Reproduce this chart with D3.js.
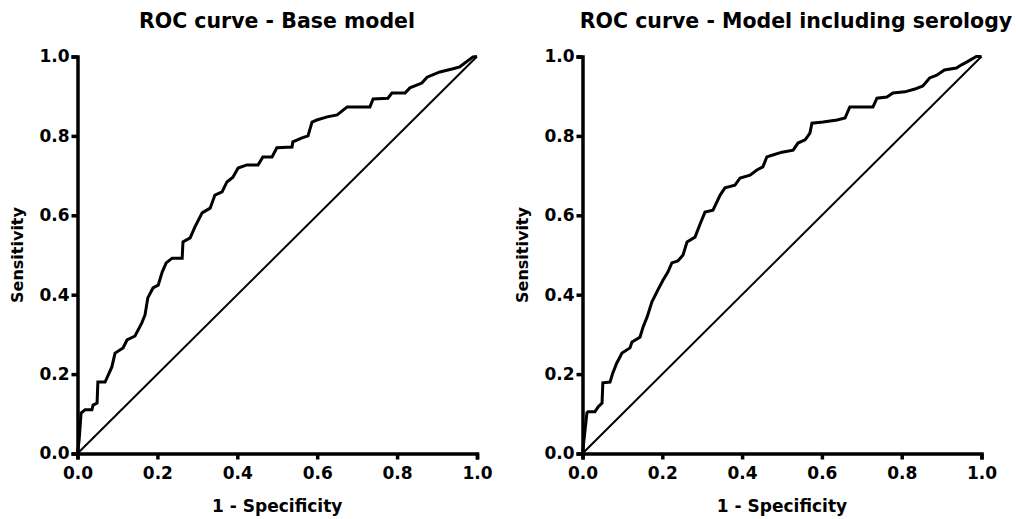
<!DOCTYPE html>
<html lang="en">
<head>
<meta charset="utf-8">
<title>ROC curves</title>
<script src="https://d3js.org/d3.v7.min.js"></script>
<style>
  body { margin: 0; background: #fff; }
  text { font-family: "DejaVu Sans", sans-serif; font-weight: bold; fill: #000; }
</style>
</head>
<body>
<script>
var w = 1016, h = 519;

// panel titles
var titles = ["ROC curve - Base model", "ROC curve - Model including serology"];
var tickValues = [0, 0.2, 0.4, 0.6, 0.8, 1.0];

// base model: 1 - specificity / sensitivity
var baseFpr = [0, 0.004, 0.009, 0.019, 0.036, 0.039, 0.049, 0.051, 0.069, 0.086, 0.094, 0.114, 0.124, 0.144,
  0.161, 0.169, 0.176, 0.189, 0.202, 0.212, 0.222, 0.237, 0.262, 0.264, 0.282, 0.294, 0.312, 0.332, 0.344,
  0.362, 0.374, 0.389, 0.402, 0.424, 0.452, 0.464, 0.487, 0.499, 0.537, 0.539, 0.562, 0.577, 0.587, 0.599,
  0.625, 0.650, 0.675, 0.732, 0.740, 0.777, 0.787, 0.820, 0.832, 0.862, 0.875, 0.907, 0.940, 0.957, 0.990, 1];
var baseTpr = [0, 0.034, 0.102, 0.110, 0.110, 0.122, 0.127, 0.180, 0.180, 0.218, 0.253, 0.266, 0.286, 0.296,
  0.329, 0.349, 0.392, 0.417, 0.424, 0.457, 0.480, 0.492, 0.492, 0.533, 0.543, 0.571, 0.606, 0.618, 0.651,
  0.659, 0.684, 0.696, 0.719, 0.727, 0.727, 0.747, 0.747, 0.770, 0.772, 0.785, 0.795, 0.800, 0.835, 0.840,
  0.848, 0.853, 0.873, 0.873, 0.893, 0.895, 0.908, 0.908, 0.921, 0.933, 0.948, 0.961, 0.969, 0.974, 0.999, 1];

// model including serology
var seroFpr = [0, 0.001, 0.011, 0.014, 0.031, 0.039, 0.049, 0.051, 0.069, 0.076, 0.086, 0.099, 0.119, 0.124,
  0.144, 0.152, 0.162, 0.174, 0.189, 0.202, 0.214, 0.224, 0.239, 0.252, 0.262, 0.282, 0.294, 0.307, 0.327,
  0.345, 0.357, 0.382, 0.395, 0.420, 0.437, 0.452, 0.462, 0.477, 0.500, 0.528, 0.540, 0.558, 0.570, 0.575,
  0.603, 0.638, 0.658, 0.670, 0.728, 0.738, 0.763, 0.778, 0.808, 0.833, 0.853, 0.870, 0.888, 0.907, 0.937,
  0.950, 0.965, 0.987, 1];
var seroTpr = [0, 0.009, 0.102, 0.105, 0.105, 0.117, 0.127, 0.178, 0.180, 0.203, 0.228, 0.253, 0.266, 0.281,
  0.293, 0.319, 0.344, 0.382, 0.412, 0.437, 0.457, 0.480, 0.485, 0.500, 0.533, 0.545, 0.576, 0.608, 0.613,
  0.651, 0.669, 0.676, 0.694, 0.701, 0.714, 0.722, 0.747, 0.752, 0.759, 0.764, 0.782, 0.790, 0.807, 0.832,
  0.835, 0.840, 0.845, 0.873, 0.873, 0.895, 0.898, 0.908, 0.911, 0.918, 0.926, 0.946, 0.953, 0.966, 0.971,
  0.979, 0.987, 1.0, 1];

var panels = [
  { title: titles[0], fpr: baseFpr, tpr: baseTpr, x0: 77.5, x1: 477, tx: 277 },
  { title: titles[1], fpr: seroFpr, tpr: seroTpr, x0: 582.5, x1: 981.5, tx: 796 }
];

var yTop = 56.5, yBottom = 453.5;

var svg = d3.select("body").append("svg")
  .attr("width", w)
  .attr("height", h);

panels.forEach(function (p) {
  var x = d3.scaleLinear().domain([0, 1]).range([p.x0, p.x1]);
  var y = d3.scaleLinear().domain([0, 1]).range([yBottom, yTop]);
  var g = svg.append("g");

  // reference diagonal
  g.append("path")
    .datum([0, 1])
    .attr("fill", "none")
    .attr("stroke", "#000")
    .attr("stroke-width", 2)
    .attr("d", d3.line().x(function (d) { return x(d); }).y(function (d) { return y(d); }));

  // roc curve
  var pts = p.fpr.map(function (v, i) { return [v, p.tpr[i]]; });
  g.append("path")
    .datum(pts)
    .attr("fill", "none")
    .attr("stroke", "#000")
    .attr("stroke-width", 3)
    .attr("stroke-linejoin", "miter")
    .attr("d", d3.line().x(function (d) { return x(d[0]); }).y(function (d) { return y(d[1]); }));

  var xAxis = g.append("g")
    .attr("transform", "translate(0," + yBottom + ")")
    .call(d3.axisBottom(x).tickValues(tickValues).tickFormat(d3.format(".1f")).tickSize(6).tickPadding(4));
  var yAxis = g.append("g")
    .attr("transform", "translate(" + p.x0 + ",0)")
    .call(d3.axisLeft(y).tickValues(tickValues).tickFormat(d3.format(".1f")).tickSize(6).tickPadding(2));

  [xAxis, yAxis].forEach(function (a) {
    a.select(".domain").attr("stroke", "#000").attr("stroke-width", 3.5);
    a.selectAll(".tick line").attr("stroke", "#000").attr("stroke-width", 3.5);
    a.selectAll(".tick text")
      .style("font-family", "'DejaVu Sans', sans-serif")
      .style("font-weight", "bold")
      .style("font-size", "17px")
      .attr("fill", "#000");
  });
  xAxis.selectAll(".tick text").attr("dy", "0.9em");

  g.append("text")
    .attr("x", p.tx)
    .attr("y", 28)
    .attr("text-anchor", "middle")
    .style("font-size", "20.5px")
    .text(p.title);

  g.append("text")
    .attr("x", (p.x0 + p.x1) / 2)
    .attr("y", 512)
    .attr("text-anchor", "middle")
    .style("font-size", "17px")
    .text("1 - Specificity");

  g.append("text")
    .attr("transform", "translate(" + (p.x0 - 55) + "," + ((yTop + yBottom) / 2) + ") rotate(-90)")
    .attr("text-anchor", "middle")
    .style("font-size", "16px")
    .text("Sensitivity");
});
</script>
</body>
</html>
